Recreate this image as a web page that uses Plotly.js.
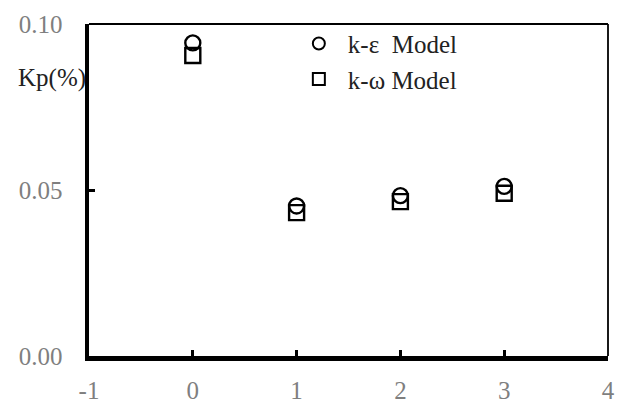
<!DOCTYPE html>
<html>
<head>
<meta charset="utf-8">
<script src="https://cdn.plot.ly/plotly-3.0.1.min.js"></script>
<style>html,body{margin:0;padding:0;background:#fff;}#chart{width:618px;height:406px;}</style>
</head>
<body>
<div id="chart"></div>
<script>
const xValues = [0, 1, 2, 3];
const kEpsilon = [0.0943, 0.0452, 0.0483, 0.0511];
const kOmega = [0.0905, 0.0432, 0.0465, 0.0490];
const seriesNames = ["k-\u03b5  Model", "k-\u03c9 Model"];
const xTicks = [-1, 0, 1, 2, 3, 4];
const yTicks = [0.00, 0.05, 0.10];
const yTickLabels = ["0.00", "0.05", "0.10"];

const FONT = "Liberation Serif";

const traces = [
  {
    x: xValues, y: kEpsilon, name: seriesNames[0], type: "scatter", mode: "markers",
    marker: {symbol: "circle-open", size: 15, color: "#000", line: {width: 2.4, color: "#000"}},
    cliponaxis: false
  },
  {
    x: xValues, y: kOmega, name: seriesNames[1], type: "scatter", mode: "markers",
    marker: {symbol: "square-open", size: 15, color: "#000", line: {width: 2.4, color: "#000"}},
    cliponaxis: false
  }
];

const layout = {
  width: 618, height: 406,
  margin: {l: 89, r: 10, t: 24, b: 50},
  paper_bgcolor: "#fff", plot_bgcolor: "#fff",
  font: {family: FONT, size: 25, color: "#222"},
  showlegend: true,
  legend: {
    x: 0.387, y: 1.01, xanchor: "left", yanchor: "top",
    bgcolor: "rgba(0,0,0,0)", borderwidth: 0,
    font: {family: FONT, size: 25, color: "#222"},
    itemwidth: 48, itemsizing: "constant"
  },
  xaxis: {
    range: [-1, 4], tickmode: "array", tickvals: xTicks, ticktext: xTicks.map(String),
    showgrid: false, zeroline: false,
    showline: true, linewidth: 4.5, linecolor: "#000",
    ticks: "inside", ticklen: 6, tickwidth: 3, tickcolor: "#000",
    tickfont: {family: FONT, size: 25, color: "#7f7f7f"},
    ticklabelstandoff: 8,
    fixedrange: true
  },
  yaxis: {
    range: [0, 0.10], tickmode: "array", tickvals: yTicks, ticktext: yTickLabels,
    showgrid: false, zeroline: false,
    showline: true, linewidth: 4.5, linecolor: "#000",
    ticks: "inside", ticklen: 6, tickwidth: 3, tickcolor: "#000",
    tickfont: {family: FONT, size: 25, color: "#7f7f7f"},
    ticklabelstandoff: 17,
    fixedrange: true
  },
  shapes: [
    {type: "line", xref: "paper", yref: "paper", x0: 0, x1: 1, y0: 1, y1: 1, line: {color: "#000", width: 1.8}},
    {type: "line", xref: "paper", yref: "paper", x0: 1, x1: 1, y0: 0, y1: 1, line: {color: "#000", width: 1.8}}
  ],
  annotations: [
    {text: "Kp(%)", xref: "paper", yref: "paper", x: -0.002, y: 0.837,
     xanchor: "right", yanchor: "middle", showarrow: false,
     font: {family: FONT, size: 25, color: "#222"}}
  ]
};

Plotly.newPlot("chart", traces, layout, {staticPlot: true, displayModeBar: false});
</script>
</body>
</html>
